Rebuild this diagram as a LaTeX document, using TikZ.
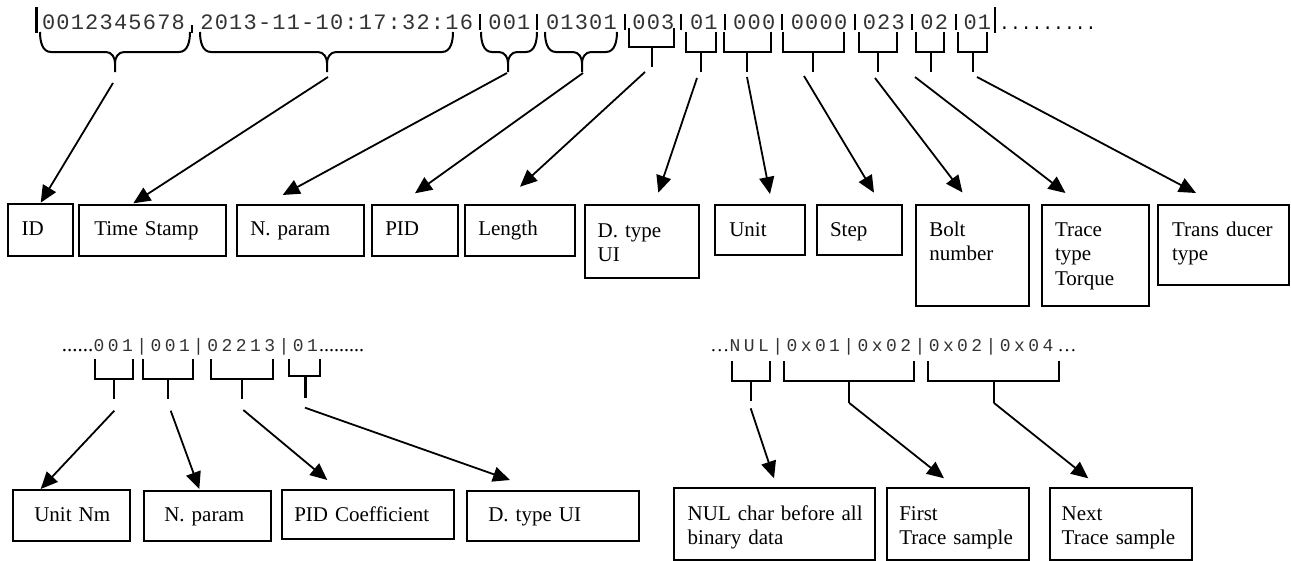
\documentclass[tikz,border=0pt]{standalone}
\usepackage{fontspec}
\setmainfont{Liberation Serif}
\newfontfamily\monotop[LetterSpace=5.5]{Liberation Mono}
\newfontfamily\monolow[LetterSpace=19]{Liberation Mono}
\newfontfamily\monoplain{Liberation Mono}
\usetikzlibrary{arrows.meta}

\tikzset{
  boxst/.style={draw, line width=2pt, anchor=north west, inner ysep=0pt, align=left,
    font=\fontsize{21}{24.5}\selectfont},
  arr/.style={line width=1.8pt, -{Triangle[length=17pt,width=15pt]}},
  brc/.style={line width=2pt},
  sepbar/.style={line width=2.6pt},
  toptext/.style={anchor=base west, inner sep=0pt, text=black!80,
    font={\monotop\fontsize{22}{22}\selectfont}},
  lowtext/.style={anchor=base west, inner sep=0pt, text=black!80,
    font={\monolow\fontsize{18}{18}\selectfont}},
}

% box: name, x1, y1, x2, y2, left inset, first-baseline offset, text
\newcommand\fieldbox[8]{%
  \pgfmathsetlengthmacro\fbw{#4-#2-2*#6}%
  \pgfmathsetlengthmacro\fbd{#5-#3-#7}%
  \node[boxst, inner xsep=#6pt, text width=\fbw, text height=#7pt, text depth=\fbd] (#1) at (#2,#3) {#8};}

% curly brace: x1, x2, xm
\newcommand\cbrace[3]{%
  \draw[brc] (#1,32) to[out=-90,in=180] (#1+11,52) -- (#3-9,52) to[out=0,in=90] (#3,63) -- (#3,72);
  \draw[brc] (#3,63) to[out=90,in=180] (#3+9,52) -- (#2-11,52) to[out=0,in=-90] (#2,32);}

% square bracket: [stem width] x1, x2, ytop, ybot, xstem, ystem
\newcommand\sqbr[7][2.6pt]{%
  \draw[brc] (#2,#4) -- (#2,#5) -- (#3,#5) -- (#3,#4);
  \draw[line width=#1] (#6,#5) -- (#6,#7);}

\begin{document}
\begin{tikzpicture}[x=1pt,y=-1pt]
\useasboundingbox (0,0) rectangle (1291,560);

% ---------- top record ----------
\node[toptext] (t1) at (41.8,29.3) {0012345678};
\node[toptext] (t2) at (200.2,29.3) {2013-11-10:17:32:16};
\node[toptext] (t3) at (488.2,29.3) {001};
\node[toptext] (t4) at (545.8,29.3) {01301};
\node[toptext] (t5) at (632.2,29.3) {003};
\node[toptext] (t6) at (689.8,29.3) {01};
\node[toptext] (t7) at (733,29.3) {000};
\node[toptext] (t8) at (790.6,29.3) {0000};
\node[toptext] (t9) at (862.6,29.3) {023};
\node[toptext] (t10) at (920.2,29.3) {02};
\node[toptext] (t11) at (963.4,29.3) {01};
\node[anchor=base west, inner sep=0pt, font={\monoplain\fontsize{18}{18}\selectfont}] (tdots) at (999,29.3) {.........};

\draw[sepbar] (36.7,7) -- (36.7,33);
\draw[sepbar] (995,7) -- (995,33);
\draw[sepbar] (192,25) -- (192,33);
\foreach \x in {480,537,625,681,725,782,855,912,956}
  \draw[sepbar] (\x,14) -- (\x,30);

\cbrace{40}{190}{115}
\cbrace{200}{453}{327}
\cbrace{481}{537}{508}
\cbrace{545}{617}{582}

\sqbr{629}{674}{28}{47}{652}{67}
\sqbr{686}{716}{32}{52}{701}{72}
\sqbr{724}{771}{32}{52}{747}{72}
\sqbr{783}{844}{32}{52}{813}{72}
\sqbr{859}{897}{32}{52}{878}{72}
\sqbr{916}{944}{32}{52}{931}{72}
\sqbr{958}{987}{32}{52}{973}{72}

% ---------- row 1 boxes ----------
\fieldbox{bID}{6.7}{203.3}{71.7}{255}{14}{31}{ID}
\fieldbox{bTS}{78.3}{204}{225}{255}{15}{30.5}{\mbox{Time Stamp}}
\fieldbox{bNP}{236}{204}{363.3}{255}{13.3}{30.5}{\mbox{N. param}}
\fieldbox{bPID}{371}{204}{456.7}{255}{13.3}{30.5}{PID}
\fieldbox{bLen}{464}{204}{574.3}{255}{13.3}{30.5}{Length}
\fieldbox{bDT}{584}{204}{698.3}{277.3}{12.7}{32}{\mbox{D. type}\\UI}
\fieldbox{bUnit}{714.3}{204}{804.3}{254.3}{14}{31}{Unit}
\fieldbox{bStep}{816}{204}{900.7}{254.3}{13}{31}{Step}
\fieldbox{bBolt}{915}{204}{1028.3}{305}{13.3}{31}{Bolt\\number}
\fieldbox{bTrace}{1040.7}{204}{1148.3}{305}{13.3}{31}{Trace\\type\\Torque}
\fieldbox{bTrans}{1157.3}{204}{1288}{284}{13.7}{31}{\mbox{Trans ducer}\\type}

% ---------- row 1 arrows ----------
\coordinate (sID) at (113,83);      \coordinate (eID) at (40.7,202.7);
\coordinate (sTS) at (328,77);      \coordinate (eTS) at (133.3,203.3);
\coordinate (sNP) at (507,73);      \coordinate (eNP) at (282.7,195);
\coordinate (sPID) at (583,73);     \coordinate (ePID) at (415,193.3);
\coordinate (sLen) at (645,72);     \coordinate (eLen) at (520,186.7);
\coordinate (sDT) at (697,78);      \coordinate (eDT) at (658.3,192.7);
\coordinate (sUnit) at (747,77);    \coordinate (eUnit) at (770,194);
\coordinate (sStep) at (804,76);    \coordinate (eStep) at (874,192.7);
\coordinate (sBolt) at (875,78);    \coordinate (eBolt) at (962.5,192.5);
\coordinate (sTrace) at (915,77);   \coordinate (eTrace) at (1065.5,193);
\coordinate (sTrans) at (977,77);   \coordinate (eTrans) at (1196,193);
\foreach \n in {ID,TS,NP,PID,Len,DT,Unit,Step,Bolt,Trace,Trans}
  \draw[arr] (s\n) -- (e\n);

% ---------- lower left record ----------
\node[lowtext] (lowA) at (93.5,351.7) {001|001|02213|01};
\node[anchor=base east, inner sep=0pt, font=\fontsize{21}{21}\selectfont] (dotsA) at (lowA.base west) {......};
\node[anchor=base west, inner sep=0pt, font=\fontsize{20}{20}\selectfont] (dotsB) at (319,351.7) {.........};

\sqbr[2.2pt]{95.3}{132.7}{359}{379}{114}{399}
\sqbr[2.2pt]{143}{192.8}{359}{379}{168}{399}
\sqbr[2.2pt]{211.4}{272.8}{359}{379}{241.7}{399}
\sqbr[2.2pt]{288.9}{320.4}{359}{376}{305.5}{398}

\fieldbox{cUnit}{12.3}{489}{129}{540}{21}{31}{\mbox{Unit Nm}}
\fieldbox{cNP}{143.3}{490}{270}{540}{20}{30}{\mbox{N. param}}
\fieldbox{cPID}{281}{489.3}{453.3}{537.7}{12.3}{30.7}{\mbox{PID Coefficient}}
\fieldbox{cDT}{465.7}{490}{638.4}{540}{21.6}{30}{\mbox{D. type UI}}

\coordinate (sa1) at (114.3,410.7); \coordinate (ea1) at (40.7,489);
\coordinate (sa2) at (170.7,410.7); \coordinate (ea2) at (199.3,489);
\coordinate (sa3) at (243.3,410);   \coordinate (ea3) at (327.3,480);
\coordinate (sa4) at (305,407.7);   \coordinate (ea4) at (510,480);
\foreach \n in {a1,a2,a3,a4}
  \draw[arr] (s\n) -- (e\n);

% ---------- lower right record ----------
\node[lowtext] (lowB) at (729.5,351.7) {NUL|0x01|0x02|0x02|0x04};
\node[anchor=base east, inner sep=0pt, font=\fontsize{19}{19}\selectfont] (ellA) at (lowB.base west) {…};
\node[anchor=base west, inner sep=0pt, font=\fontsize{19}{19}\selectfont] (ellB) at (1057.5,351.7) {…};

\sqbr[2.2pt]{731.8}{769.8}{361}{381}{751}{401}
\sqbr[2.2pt]{783.7}{913.7}{361}{381}{849.3}{403}
\sqbr[2.2pt]{928}{1058.8}{361}{381}{994}{403}

\fieldbox{dNUL}{673.3}{487.3}{874.3}{558.5}{13.4}{32}{\mbox{NUL char before all}\\binary data}
\fieldbox{dFirst}{886}{487.3}{1028.3}{558.5}{12.3}{32}{First\\\mbox{Trace sample}}
\fieldbox{dNext}{1049.3}{487.3}{1190.5}{558.5}{11.4}{32}{Next\\\mbox{Trace sample}}

\coordinate (sd1) at (750.7,408.3); \coordinate (ed1) at (774,478.3);
\coordinate (sd2) at (849.3,403);   \coordinate (ed2) at (944,478.3);
\coordinate (sd3) at (994,403);     \coordinate (ed3) at (1088.3,478.3);
\foreach \n in {d1,d2,d3}
  \draw[arr] (s\n) -- (e\n);
\end{tikzpicture}
\end{document}
